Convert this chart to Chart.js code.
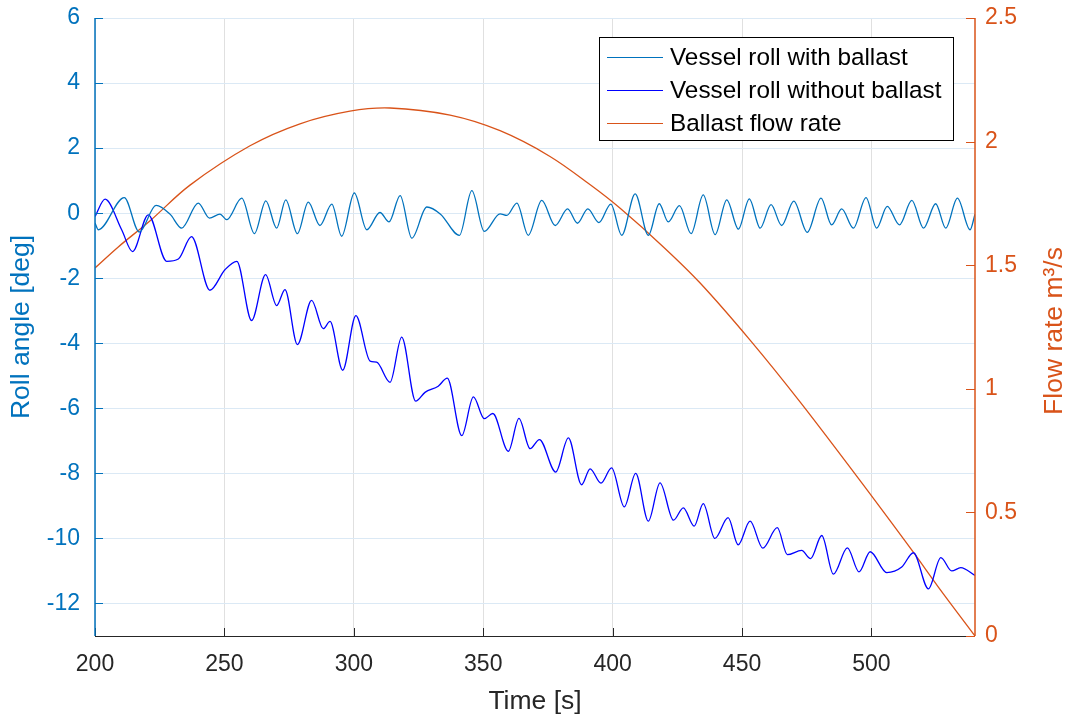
<!DOCTYPE html>
<html>
<head>
<meta charset="utf-8">
<script src="https://cdn.jsdelivr.net/npm/chart.js@4.4.1/dist/chart.umd.min.js"></script>
<style>
  body { margin: 0; background: #fff; }
  #wrap { width: 1073px; height: 718px; }
</style>
</head>
<body>
<div id="wrap"><canvas id="chart1" width="1073" height="718"></canvas></div>
<script>
// ticks
const xTicks = [200, 250, 300, 350, 400, 450, 500];
const rollTicks = [-12, -10, -8, -6, -4, -2, 0, 2, 4, 6];
const flowTicks = [0, 0.5, 1, 1.5, 2, 2.5];

// Vessel roll with ballast (peaks / troughs)
const withT = [200, 201.3, 211.3, 217.1, 223.6, 229, 233.5, 239.9, 244.2, 248.3, 250.9, 256.7, 261.6, 266,
  270.2, 273.7, 278.2, 282.4, 286.9, 291.5, 295.3, 300.2, 305, 310.1, 313.6, 317.9, 322.4, 328.2, 333.5,
  340.8, 345.6, 350.4, 356.5, 359.1, 363, 367.4, 372.6, 377.8, 382.6, 386.4, 390.4, 394.7, 399.3, 403.5,
  408.7, 413.8, 418, 421.5, 425.8, 430.3, 435, 439.6, 444.1, 448.6, 452.8, 457, 461.2, 465.3, 470, 475.2,
  480.5, 484.6, 488.5, 493, 497.9, 502, 506.1, 510.8, 515.6, 520.1, 524.8, 528.7, 533.2, 538.1, 540];
const withV = [-0.3, -0.51, 0.48, -0.58, 0.24, -0.03, -0.46, 0.31, -0.15, -0.03, -0.2, 0.46, -0.63, 0.38,
  -0.46, 0.41, -0.63, 0.34, -0.38, 0.28, -0.71, 0.62, -0.51, 0.02, -0.27, 0.54, -0.77, 0.19, -0.03,
  -0.68, 0.69, -0.56, -0.02, -0.07, 0.31, -0.68, 0.39, -0.38, 0.13, -0.31, 0.13, -0.29, 0.28, -0.68,
  0.59, -0.68, 0.29, -0.27, 0.23, -0.63, 0.56, -0.66, 0.41, -0.49, 0.44, -0.46, 0.26, -0.38, 0.37, -0.59,
  0.46, -0.36, 0.13, -0.46, 0.48, -0.46, 0.21, -0.36, 0.39, -0.46, 0.29, -0.46, 0.46, -0.51, -0.03];

// Vessel roll without ballast
const withoutT = [200, 203.9, 210.3, 214.5, 220.6, 227.7, 232.2, 237.3, 244.4, 250.2, 254.8, 260.5, 265.9,
  270.2, 273.4, 278.2, 283.7, 288.2, 290.8, 295.7, 300.8, 306.3, 308.8, 314, 318.5, 323.9, 327.5, 332.6,
  336.1, 341.7, 346.2, 350.4, 353.7, 359.7, 363.8, 368.1, 371.7, 378, 382.9, 388, 391.3, 395.5, 399.6,
  404.5, 408.9, 413.8, 418.3, 423.5, 427.3, 431.5, 435, 439.5, 444.6, 448.5, 453.1, 458, 463.6, 467.5,
  473, 476.5, 480.8, 485.3, 490.7, 495.2, 499.5, 505.9, 511.7, 516.2, 522, 526.8, 531, 534.5, 540];
const withoutV = [-0.1, 0.43, -0.51, -1.18, -0.05, -1.48, -1.41, -0.72, -2.37, -1.74, -1.48, -3.3, -1.89,
  -2.84, -2.35, -4.04, -2.68, -3.55, -3.33, -4.83, -3.15, -4.55, -4.58, -5.2, -3.81, -5.78, -5.51, -5.32,
  -5.07, -6.84, -5.65, -6.32, -6.16, -7.32, -6.31, -7.24, -6.96, -7.96, -6.91, -8.35, -7.86, -8.3, -7.83,
  -9.03, -8.0, -9.47, -8.29, -9.44, -9.06, -9.62, -8.93, -10.0, -9.36, -10.2, -9.47, -10.3, -9.67, -10.5,
  -10.37, -10.62, -9.91, -11.1, -10.29, -11.03, -10.41, -11.05, -10.88, -10.44, -11.55, -10.59, -11.0, -10.9, -11.14];

// Ballast flow rate (m3/s)
const flowT = [200, 209, 221.3, 236.7, 259.9, 279.2, 298.5, 314, 337.2, 356.5, 375.8, 392, 402.9, 419.5,
  433.8, 453.1, 472.4, 498.3, 516.1, 525.7, 540];
const flowV = [1.489, 1.574, 1.68, 1.824, 1.983, 2.072, 2.123, 2.136, 2.107, 2.044, 1.94, 1.82, 1.73, 1.575,
  1.428, 1.197, 0.947, 0.591, 0.34, 0.2, 0];

const pts = (t, v) => t.map((x, i) => ({ x: x, y: v[i] }));
const setTicks = vals => scale => { scale.ticks = vals.map(v => ({ value: v })); };
// keep the plot box where the figure has it (no extra room for end labels)
const fixSize = (w, h) => s => {
  if (w) s.width = w;
  if (h) s.height = h;
  s.paddingTop = 0; s.paddingBottom = 0; s.paddingLeft = 0; s.paddingRight = 0;
};

const blueAxis = '#0072BD';
const orangeAxis = '#D95319';
const darkText = '#262626';
const fontFam = '"Liberation Sans", Arial, sans-serif';
const lineColors = [blueAxis, '#0000FF', orangeAxis];

// axes lines + inward ticks, right title, legend box
const framePlugin = {
  id: 'frame',
  afterDatasetsDraw(chart) {
    const { ctx, chartArea: a, scales } = chart;
    ctx.save();
    ctx.lineWidth = 1;
    // bottom
    ctx.strokeStyle = darkText;
    ctx.beginPath();
    ctx.moveTo(a.left, a.bottom + 0.5); ctx.lineTo(a.right, a.bottom + 0.5);
    ctx.stroke();
    xTicks.forEach(v => {
      const x = Math.round(scales.x.getPixelForValue(v)) + 0.5;
      ctx.beginPath();
      ctx.moveTo(x, a.bottom); ctx.lineTo(x, a.bottom - 8);
      ctx.stroke();
    });
    // left
    ctx.strokeStyle = blueAxis;
    ctx.lineWidth = 1.5;
    ctx.beginPath();
    ctx.moveTo(a.left, a.top); ctx.lineTo(a.left, a.bottom);
    ctx.stroke();
    ctx.lineWidth = 1;
    rollTicks.forEach(v => {
      const y = Math.round(scales.y.getPixelForValue(v)) + 0.5;
      ctx.beginPath();
      ctx.moveTo(a.left, y); ctx.lineTo(a.left + 8, y);
      ctx.stroke();
    });
    // right
    ctx.strokeStyle = orangeAxis;
    ctx.lineWidth = 1.5;
    ctx.beginPath();
    ctx.moveTo(a.right, a.top); ctx.lineTo(a.right, a.bottom);
    ctx.stroke();
    ctx.lineWidth = 1;
    flowTicks.forEach(v => {
      const y = Math.round(scales.y1.getPixelForValue(v)) + 0.5;
      ctx.beginPath();
      ctx.moveTo(a.right, y); ctx.lineTo(a.right - 9, y);
      ctx.stroke();
    });

    // right axis title, reading upwards
    ctx.fillStyle = orangeAxis;
    ctx.font = '26.5px ' + fontFam;
    ctx.textAlign = 'center';
    ctx.textBaseline = 'middle';
    ctx.translate(1055, (a.top + a.bottom) / 2 + 4);
    ctx.rotate(-Math.PI / 2);
    ctx.fillText('Flow rate m\u00B3/s', 0, 0);
    ctx.restore();

    // legend
    ctx.save();
    const bx = 599, by = 37, bw = 354, bh = 103;
    ctx.fillStyle = '#fff';
    ctx.fillRect(bx, by, bw, bh);
    ctx.strokeStyle = '#000';
    ctx.lineWidth = 1;
    ctx.strokeRect(bx + 0.5, by + 0.5, bw, bh);
    ctx.font = '24.3px ' + fontFam;
    ctx.textBaseline = 'middle';
    ctx.textAlign = 'left';
    const rows = [57, 90, 123];
    chart.data.datasets.forEach((ds, i) => {
      ctx.strokeStyle = lineColors[i];
      ctx.lineWidth = 1.2;
      ctx.beginPath();
      ctx.moveTo(607, rows[i] + 0.5); ctx.lineTo(663, rows[i] + 0.5);
      ctx.stroke();
      ctx.fillStyle = '#000';
      ctx.fillText(ds.label, 670, rows[i] + 1);
    });
    ctx.restore();
  }
};

new Chart(document.getElementById('chart1').getContext('2d'), {
  type: 'line',
  data: {
    datasets: [
      { label: 'Vessel roll with ballast', data: pts(withT, withV), borderColor: lineColors[0], borderWidth: 1.3,
        yAxisID: 'y', pointRadius: 0, cubicInterpolationMode: 'monotone' },
      { label: 'Vessel roll without ballast', data: pts(withoutT, withoutV), borderColor: lineColors[1], borderWidth: 1.3,
        yAxisID: 'y', pointRadius: 0, cubicInterpolationMode: 'monotone' },
      { label: 'Ballast flow rate', data: pts(flowT, flowV), borderColor: lineColors[2], borderWidth: 1.3,
        yAxisID: 'y1', pointRadius: 0, tension: 0.35 }
    ]
  },
  options: {
    responsive: false,
    animation: false,
    events: [],
    layout: { padding: { top: 18, left: 0, right: 0, bottom: 0 } },
    plugins: { legend: { display: false }, tooltip: { enabled: false } },
    scales: {
      x: {
        type: 'linear', min: 200, max: 540,
        afterBuildTicks: setTicks(xTicks),
        afterFit: fixSize(0, 82),
        grid: { color: '#e0e0e0', drawTicks: false },
        border: { display: false },
        ticks: { color: darkText, font: { size: 23, family: fontFam }, padding: 15, maxRotation: 0,
          callback: v => String(v) },
        title: { display: true, text: 'Time [s]', color: darkText, padding: { top: 0, bottom: 0 },
          font: { size: 26.5, family: fontFam } }
      },
      y: {
        type: 'linear', position: 'left', min: -13, max: 6,
        afterBuildTicks: setTicks(rollTicks),
        afterFit: fixSize(95, 0),
        grid: { color: '#dbe9f5', drawTicks: false },
        border: { display: false },
        ticks: { color: blueAxis, font: { size: 23, family: fontFam }, padding: 15, callback: v => String(v) },
        title: { display: true, text: 'Roll angle [deg]', color: blueAxis, padding: { top: 6, bottom: 0 },
          font: { size: 26.5, family: fontFam } }
      },
      y1: {
        type: 'linear', position: 'right', min: 0, max: 2.5,
        afterBuildTicks: setTicks(flowTicks),
        afterFit: fixSize(98, 0),
        grid: { display: false, drawTicks: false },
        border: { display: false },
        ticks: { color: orangeAxis, font: { size: 23, family: fontFam }, padding: 10, callback: v => String(v) }
      }
    }
  },
  plugins: [framePlugin]
});
</script>
</body>
</html>
